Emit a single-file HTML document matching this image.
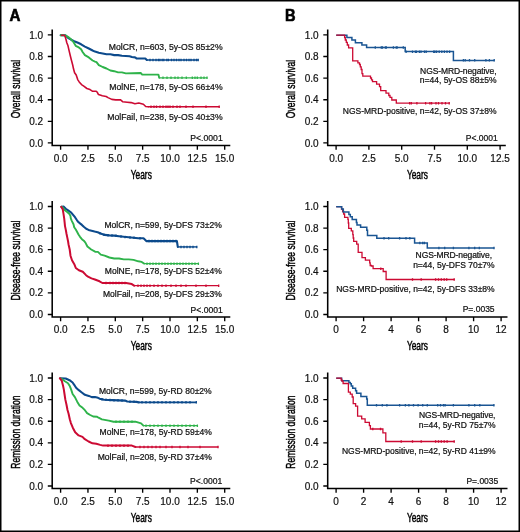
<!DOCTYPE html>
<html><head><meta charset="utf-8"><style>
html,body{margin:0;padding:0;background:#fff;}
svg{display:block;will-change:transform;}
text{font-family:"Liberation Sans", sans-serif;fill:#111;stroke:#111;stroke-width:0.2px;}
.c{fill:#000;stroke:#000;stroke-width:0.45px;}
.L{fill:#000;stroke:#000;stroke-width:0.6px;}
.a{fill:#111;stroke:#111;stroke-width:0.22px;}
</style></head><body>
<svg width="520" height="532" viewBox="0 0 520 532">
<rect x="0" y="0" width="520" height="532" fill="#fff"/>
<g transform="translate(0,0)"><path d="M52.2 29.5V146.15M51.45 145.4H230.3" stroke="#000" stroke-width="1.55" fill="none"/><path d="M47.8 142.90H52.2M47.8 121.30H52.2M47.8 99.70H52.2M47.8 78.10H52.2M47.8 56.50H52.2M47.8 34.90H52.2M60.60 145.4V149.7M87.95 145.4V149.7M115.30 145.4V149.7M142.65 145.4V149.7M170.00 145.4V149.7M197.35 145.4V149.7M224.70 145.4V149.7" stroke="#000" stroke-width="1.35" fill="none"/><text x="43.1" y="146.50" text-anchor="end" font-size="10">0.0</text><text x="43.1" y="124.90" text-anchor="end" font-size="10">0.2</text><text x="43.1" y="103.30" text-anchor="end" font-size="10">0.4</text><text x="43.1" y="81.70" text-anchor="end" font-size="10">0.6</text><text x="43.1" y="60.10" text-anchor="end" font-size="10">0.8</text><text x="43.1" y="38.50" text-anchor="end" font-size="10">1.0</text><text x="60.60" y="161.6" text-anchor="middle" font-size="10">0.0</text><text x="87.95" y="161.6" text-anchor="middle" font-size="10">2.5</text><text x="115.30" y="161.6" text-anchor="middle" font-size="10">5.0</text><text x="142.65" y="161.6" text-anchor="middle" font-size="10">7.5</text><text x="170.00" y="161.6" text-anchor="middle" font-size="10">10.0</text><text x="197.35" y="161.6" text-anchor="middle" font-size="10">12.5</text><text x="224.70" y="161.6" text-anchor="middle" font-size="10">15.0</text><text transform="translate(141.3,178.8) scale(0.69,1)" text-anchor="middle" font-size="12.1" class="c">Years</text><text transform="translate(19.6,89) rotate(-90) scale(0.69,1)" text-anchor="middle" font-size="12.4" class="c">Overall survival</text></g><g transform="translate(0,171.55)"><path d="M52.2 29.5V146.15M51.45 145.4H230.3" stroke="#000" stroke-width="1.55" fill="none"/><path d="M47.8 142.90H52.2M47.8 121.30H52.2M47.8 99.70H52.2M47.8 78.10H52.2M47.8 56.50H52.2M47.8 34.90H52.2M60.60 145.4V149.7M87.95 145.4V149.7M115.30 145.4V149.7M142.65 145.4V149.7M170.00 145.4V149.7M197.35 145.4V149.7M224.70 145.4V149.7" stroke="#000" stroke-width="1.35" fill="none"/><text x="43.1" y="146.50" text-anchor="end" font-size="10">0.0</text><text x="43.1" y="124.90" text-anchor="end" font-size="10">0.2</text><text x="43.1" y="103.30" text-anchor="end" font-size="10">0.4</text><text x="43.1" y="81.70" text-anchor="end" font-size="10">0.6</text><text x="43.1" y="60.10" text-anchor="end" font-size="10">0.8</text><text x="43.1" y="38.50" text-anchor="end" font-size="10">1.0</text><text x="60.60" y="161.6" text-anchor="middle" font-size="10">0.0</text><text x="87.95" y="161.6" text-anchor="middle" font-size="10">2.5</text><text x="115.30" y="161.6" text-anchor="middle" font-size="10">5.0</text><text x="142.65" y="161.6" text-anchor="middle" font-size="10">7.5</text><text x="170.00" y="161.6" text-anchor="middle" font-size="10">10.0</text><text x="197.35" y="161.6" text-anchor="middle" font-size="10">12.5</text><text x="224.70" y="161.6" text-anchor="middle" font-size="10">15.0</text><text transform="translate(141.3,178.8) scale(0.69,1)" text-anchor="middle" font-size="12.1" class="c">Years</text><text transform="translate(19.6,89) rotate(-90) scale(0.69,1)" text-anchor="middle" font-size="12.4" class="c">Disease-free survival</text></g><g transform="translate(0,343.1)"><path d="M52.2 29.5V146.15M51.45 145.4H230.3" stroke="#000" stroke-width="1.55" fill="none"/><path d="M47.8 142.90H52.2M47.8 121.30H52.2M47.8 99.70H52.2M47.8 78.10H52.2M47.8 56.50H52.2M47.8 34.90H52.2M60.60 145.4V149.7M87.95 145.4V149.7M115.30 145.4V149.7M142.65 145.4V149.7M170.00 145.4V149.7M197.35 145.4V149.7M224.70 145.4V149.7" stroke="#000" stroke-width="1.35" fill="none"/><text x="43.1" y="146.50" text-anchor="end" font-size="10">0.0</text><text x="43.1" y="124.90" text-anchor="end" font-size="10">0.2</text><text x="43.1" y="103.30" text-anchor="end" font-size="10">0.4</text><text x="43.1" y="81.70" text-anchor="end" font-size="10">0.6</text><text x="43.1" y="60.10" text-anchor="end" font-size="10">0.8</text><text x="43.1" y="38.50" text-anchor="end" font-size="10">1.0</text><text x="60.60" y="161.6" text-anchor="middle" font-size="10">0.0</text><text x="87.95" y="161.6" text-anchor="middle" font-size="10">2.5</text><text x="115.30" y="161.6" text-anchor="middle" font-size="10">5.0</text><text x="142.65" y="161.6" text-anchor="middle" font-size="10">7.5</text><text x="170.00" y="161.6" text-anchor="middle" font-size="10">10.0</text><text x="197.35" y="161.6" text-anchor="middle" font-size="10">12.5</text><text x="224.70" y="161.6" text-anchor="middle" font-size="10">15.0</text><text transform="translate(141.3,178.8) scale(0.69,1)" text-anchor="middle" font-size="12.1" class="c">Years</text><text transform="translate(19.6,89) rotate(-90) scale(0.69,1)" text-anchor="middle" font-size="12.4" class="c">Remission duration</text></g><g transform="translate(275.5,0)"><path d="M52.2 29.5V146.15M51.45 145.4H230.3" stroke="#000" stroke-width="1.55" fill="none"/><path d="M47.8 142.90H52.2M47.8 121.30H52.2M47.8 99.70H52.2M47.8 78.10H52.2M47.8 56.50H52.2M47.8 34.90H52.2M60.60 145.4V149.7M93.40 145.4V149.7M126.20 145.4V149.7M159.00 145.4V149.7M191.80 145.4V149.7M224.60 145.4V149.7" stroke="#000" stroke-width="1.35" fill="none"/><text x="43.1" y="146.50" text-anchor="end" font-size="10">0.0</text><text x="43.1" y="124.90" text-anchor="end" font-size="10">0.2</text><text x="43.1" y="103.30" text-anchor="end" font-size="10">0.4</text><text x="43.1" y="81.70" text-anchor="end" font-size="10">0.6</text><text x="43.1" y="60.10" text-anchor="end" font-size="10">0.8</text><text x="43.1" y="38.50" text-anchor="end" font-size="10">1.0</text><text x="60.60" y="161.6" text-anchor="middle" font-size="10">0.0</text><text x="93.40" y="161.6" text-anchor="middle" font-size="10">2.5</text><text x="126.20" y="161.6" text-anchor="middle" font-size="10">5.0</text><text x="159.00" y="161.6" text-anchor="middle" font-size="10">7.5</text><text x="191.80" y="161.6" text-anchor="middle" font-size="10">10.0</text><text x="224.60" y="161.6" text-anchor="middle" font-size="10">12.5</text><text transform="translate(141.9,178.8) scale(0.69,1)" text-anchor="middle" font-size="12.1" class="c">Years</text><text transform="translate(19.6,89) rotate(-90) scale(0.69,1)" text-anchor="middle" font-size="12.4" class="c">Overall survival</text></g><g transform="translate(275.5,171.55)"><path d="M52.2 29.5V146.15M51.45 145.4H232.0" stroke="#000" stroke-width="1.55" fill="none"/><path d="M47.8 142.90H52.2M47.8 121.30H52.2M47.8 99.70H52.2M47.8 78.10H52.2M47.8 56.50H52.2M47.8 34.90H52.2M60.60 145.4V149.7M88.10 145.4V149.7M115.60 145.4V149.7M143.10 145.4V149.7M170.60 145.4V149.7M198.10 145.4V149.7M225.60 145.4V149.7" stroke="#000" stroke-width="1.35" fill="none"/><text x="43.1" y="146.50" text-anchor="end" font-size="10">0.0</text><text x="43.1" y="124.90" text-anchor="end" font-size="10">0.2</text><text x="43.1" y="103.30" text-anchor="end" font-size="10">0.4</text><text x="43.1" y="81.70" text-anchor="end" font-size="10">0.6</text><text x="43.1" y="60.10" text-anchor="end" font-size="10">0.8</text><text x="43.1" y="38.50" text-anchor="end" font-size="10">1.0</text><text x="60.60" y="161.6" text-anchor="middle" font-size="10">0</text><text x="88.10" y="161.6" text-anchor="middle" font-size="10">2</text><text x="115.60" y="161.6" text-anchor="middle" font-size="10">4</text><text x="143.10" y="161.6" text-anchor="middle" font-size="10">6</text><text x="170.60" y="161.6" text-anchor="middle" font-size="10">8</text><text x="198.10" y="161.6" text-anchor="middle" font-size="10">10</text><text x="225.60" y="161.6" text-anchor="middle" font-size="10">12</text><text transform="translate(141.9,178.8) scale(0.69,1)" text-anchor="middle" font-size="12.1" class="c">Years</text><text transform="translate(19.6,89) rotate(-90) scale(0.69,1)" text-anchor="middle" font-size="12.4" class="c">Disease-free survival</text></g><g transform="translate(275.5,343.1)"><path d="M52.2 29.5V146.15M51.45 145.4H232.0" stroke="#000" stroke-width="1.55" fill="none"/><path d="M47.8 142.90H52.2M47.8 121.30H52.2M47.8 99.70H52.2M47.8 78.10H52.2M47.8 56.50H52.2M47.8 34.90H52.2M60.60 145.4V149.7M88.10 145.4V149.7M115.60 145.4V149.7M143.10 145.4V149.7M170.60 145.4V149.7M198.10 145.4V149.7M225.60 145.4V149.7" stroke="#000" stroke-width="1.35" fill="none"/><text x="43.1" y="146.50" text-anchor="end" font-size="10">0.0</text><text x="43.1" y="124.90" text-anchor="end" font-size="10">0.2</text><text x="43.1" y="103.30" text-anchor="end" font-size="10">0.4</text><text x="43.1" y="81.70" text-anchor="end" font-size="10">0.6</text><text x="43.1" y="60.10" text-anchor="end" font-size="10">0.8</text><text x="43.1" y="38.50" text-anchor="end" font-size="10">1.0</text><text x="60.60" y="161.6" text-anchor="middle" font-size="10">0</text><text x="88.10" y="161.6" text-anchor="middle" font-size="10">2</text><text x="115.60" y="161.6" text-anchor="middle" font-size="10">4</text><text x="143.10" y="161.6" text-anchor="middle" font-size="10">6</text><text x="170.60" y="161.6" text-anchor="middle" font-size="10">8</text><text x="198.10" y="161.6" text-anchor="middle" font-size="10">10</text><text x="225.60" y="161.6" text-anchor="middle" font-size="10">12</text><text transform="translate(141.9,178.8) scale(0.69,1)" text-anchor="middle" font-size="12.1" class="c">Years</text><text transform="translate(19.6,89) rotate(-90) scale(0.69,1)" text-anchor="middle" font-size="12.4" class="c">Remission duration</text></g><text transform="translate(9.6,20.7) scale(0.97,1)" font-size="15.6" font-weight="bold" class="L">A</text><text transform="translate(285.1,20.8) scale(0.94,1)" font-size="15.6" font-weight="bold" class="L">B</text><text x="222.6" y="49.9" text-anchor="end" font-size="8.65" class="a">MolCR, n=603, 5y-OS 85±2%</text><text x="222.6" y="90.1" text-anchor="end" font-size="8.65" class="a">MolNE, n=178, 5y-OS 66±4%</text><text x="222.6" y="120.1" text-anchor="end" font-size="8.65" class="a">MolFail, n=238, 5y-OS 40±3%</text><text x="222.7" y="141.0" text-anchor="end" font-size="8.65" class="a">P&lt;.0001</text><text x="221.9" y="227.8" text-anchor="end" font-size="8.56" class="a">MolCR, n=599, 5y-DFS 73±2%</text><text x="221.9" y="274.2" text-anchor="end" font-size="8.56" class="a">MolNE, n=178, 5y-DFS 52±4%</text><text x="221.9" y="297.4" text-anchor="end" font-size="8.56" class="a">MolFail, n=208, 5y-DFS 29±3%</text><text x="222.7" y="312.6" text-anchor="end" font-size="8.56" class="a">P&lt;.0001</text><text x="211.7" y="393.5" text-anchor="end" font-size="8.56" class="a">MolCR, n=599, 5y-RD 80±2%</text><text x="211.9" y="435.3" text-anchor="end" font-size="8.56" class="a">MolNE, n=178, 5y-RD 59±4%</text><text x="211.9" y="460.1" text-anchor="end" font-size="8.56" class="a">MolFail, n=208, 5y-RD 37±4%</text><text x="222.2" y="484.3" text-anchor="end" font-size="8.56" class="a">P&lt;.0001</text><text x="496.5" y="73.8" text-anchor="end" font-size="8.5" class="a" textLength="76.4" lengthAdjust="spacing">NGS-MRD-negative,</text><text x="496.5" y="83.4" text-anchor="end" font-size="8.5" class="a">n=44, 5y-OS 88±5%</text><text x="496.5" y="114.2" text-anchor="end" font-size="8.5" class="a">NGS-MRD-positive, n=42, 5y-OS 37±8%</text><text x="497.7" y="141.0" text-anchor="end" font-size="8.5" class="a">P&lt;.0001</text><text x="492.0" y="257.5" text-anchor="end" font-size="8.5" class="a" textLength="76.4" lengthAdjust="spacing">NGS-MRD-negative,</text><text x="494.6" y="268.1" text-anchor="end" font-size="8.5" class="a">n=44, 5y-DFS 70±7%</text><text x="494.6" y="292.1" text-anchor="end" font-size="8.5" class="a">NGS-MRD-positive, n=42, 5y-DFS 33±8%</text><text x="494.6" y="312.4" text-anchor="end" font-size="8.5" class="a">P=.0035</text><text x="495.4" y="417.7" text-anchor="end" font-size="8.5" class="a" textLength="76.4" lengthAdjust="spacing">NGS-MRD-negative,</text><text x="495.6" y="427.7" text-anchor="end" font-size="8.5" class="a">n=44, 5y-RD 75±7%</text><text x="495.6" y="454.2" text-anchor="end" font-size="8.5" class="a">NGS-MRD-positive, n=42, 5y-RD 41±9%</text><text x="498.3" y="483.8" text-anchor="end" font-size="8.5" class="a">P=.0035</text>
<path d="M146.8 60.0 L198.4 60.0" fill="none" stroke="#0c4a8c" stroke-width="1.4"/>
<path d="M60.7 35.2 L65.3 35.2 L68.0 37.8 L71.1 39.7 L74.2 41.2 L78.0 42.8 L81.1 44.3 L84.9 46.6 L88.8 48.5 L92.6 50.5 L95.0 51.6 L98.8 52.8 L102.7 53.5 L106.5 54.3 L110.4 54.3 L114.2 55.1 L118.1 55.1 L121.9 55.8 L125.8 56.0 L129.6 56.2 L131.9 57.0 L135.0 57.4 L135.7 57.7 L136.5 58.5 L145.3 58.5 L146.8 60.0" fill="none" stroke="#0c4a8c" stroke-width="2.1" stroke-linejoin="round" stroke-linecap="round"/>
<path d="M159.2 77.8 L207.3 77.8" fill="none" stroke="#2eb34a" stroke-width="1.15"/>
<path d="M60.7 35.2 L65.7 35.5 L68.8 37.4 L71.1 39.3 L73.4 42.0 L75.7 45.8 L78.8 47.4 L81.1 49.3 L82.6 52.0 L84.9 55.1 L88.8 57.4 L92.6 60.5 L95.0 61.6 L96.5 62.2 L98.8 65.1 L102.7 67.0 L106.5 68.5 L110.4 70.5 L114.2 71.2 L118.1 72.4 L121.9 72.4 L125.8 73.4 L133.0 73.2 L140.7 73.0 L142.2 74.6 L158.4 74.6 L159.2 77.8" fill="none" stroke="#2eb34a" stroke-width="1.9" stroke-linejoin="round" stroke-linecap="round"/>
<path d="M148.0 106.8 L219.3 106.8" fill="none" stroke="#cc0a33" stroke-width="1.4"/>
<path d="M61.5 35.2 L64.0 35.2 L64.9 35.8 L66.1 39.7 L66.8 42.8 L68.0 45.8 L69.2 51.2 L70.3 55.8 L71.5 60.5 L72.7 65.0 L73.5 68.8 L74.6 72.7 L76.2 75.0 L77.7 79.6 L79.2 81.9 L81.5 84.6 L83.8 86.2 L86.9 88.5 L90.0 89.6 L92.3 91.2 L96.2 91.2 L97.3 92.3 L98.5 94.6 L102.3 95.8 L106.2 96.5 L108.0 97.6 L111.8 99.4 L115.7 99.9 L120.3 99.7 L122.6 101.7 L127.2 102.2 L131.1 102.6 L134.9 103.8 L138.8 103.0 L143.4 104.2 L145.7 106.5 L148.0 106.8" fill="none" stroke="#cc0a33" stroke-width="1.6" stroke-linejoin="round" stroke-linecap="round"/>
<path d="M150.0 58.8V61.2M153.0 58.8V61.2M156.0 58.8V61.2M158.4 58.8V61.2M159.9 58.8V61.2M162.2 58.8V61.2M163.8 58.8V61.2M166.8 58.8V61.2M168.4 58.8V61.2M171.5 58.8V61.2M174.0 58.8V61.2M176.5 58.8V61.2M179.0 58.8V61.2M181.0 58.8V61.2M184.0 58.8V61.2M186.5 58.8V61.2M189.0 58.8V61.2M191.0 58.8V61.2M194.0 58.8V61.2M196.5 58.8V61.2M198.2 58.8V61.2" fill="none" stroke="#0c4a8c" stroke-width="1.3"/>
<path d="M163.0 76.5V79.0M167.0 76.5V79.0M171.0 76.5V79.0M175.0 76.5V79.0M178.0 76.5V79.0M182.0 76.5V79.0M186.3 76.5V79.0M192.3 76.5V79.0M195.0 76.5V79.0M197.3 76.5V79.0M201.0 76.5V79.0M204.0 76.5V79.0M207.0 76.5V79.0" fill="none" stroke="#2eb34a" stroke-width="1.3"/>
<path d="M151.0 105.5V108.0M154.0 105.5V108.0M156.5 105.5V108.0M160.0 105.5V108.0M163.0 105.5V108.0M166.0 105.5V108.0M168.0 105.5V108.0M170.0 105.5V108.0M173.0 105.5V108.0M177.0 105.5V108.0M180.0 105.5V108.0M186.0 105.5V108.0M193.0 105.5V108.0M206.0 105.5V108.0M219.2 105.5V108.0" fill="none" stroke="#cc0a33" stroke-width="1.3"/>
<path d="M177.8 246.9 L197.1 246.9" fill="none" stroke="#0c4a8c" stroke-width="1.4"/>
<path d="M61.5 206.7 L63.5 206.5 L65.8 208.8 L68.5 210.7 L71.2 212.6 L73.1 214.9 L75.0 217.2 L76.5 219.5 L78.1 221.8 L80.0 223.4 L81.9 224.9 L83.8 226.8 L86.2 228.8 L88.5 229.9 L91.5 230.7 L94.6 231.5 L97.7 232.2 L100.0 233.2 L104.6 234.9 L109.4 235.4 L114.2 235.6 L119.0 236.2 L123.8 236.8 L128.7 237.3 L133.5 237.8 L138.3 238.3 L143.5 238.3 L146.3 241.1 L176.9 241.1 L177.8 246.9" fill="none" stroke="#0c4a8c" stroke-width="2.1" stroke-linejoin="round" stroke-linecap="round"/>
<path d="M144.0 263.6 L198.6 263.6" fill="none" stroke="#2eb34a" stroke-width="1.15"/>
<path d="M61.5 206.8 L62.3 207.2 L64.6 209.9 L66.9 211.8 L69.2 213.8 L70.4 215.7 L70.8 218.4 L71.9 221.1 L73.5 224.2 L74.2 227.2 L75.8 229.5 L77.3 232.2 L78.5 234.5 L80.0 236.8 L81.9 239.2 L83.8 240.7 L85.4 242.6 L87.4 246.5 L91.2 249.5 L95.1 251.7 L97.9 251.9 L100.8 254.6 L104.6 255.6 L109.4 257.5 L114.2 258.5 L119.0 258.5 L123.8 259.4 L128.7 259.4 L133.5 259.9 L138.3 261.3 L141.7 261.9 L144.0 263.6" fill="none" stroke="#2eb34a" stroke-width="1.9" stroke-linejoin="round" stroke-linecap="round"/>
<path d="M134.1 285.6 L218.9 285.6" fill="none" stroke="#cc0a33" stroke-width="1.4"/>
<path d="M61.3 206.9 L62.7 209.2 L63.5 213.8 L64.2 218.4 L64.6 222.2 L65.0 226.1 L65.8 229.9 L66.5 233.8 L67.3 237.6 L68.1 241.5 L68.5 244.2 L69.7 249.5 L70.5 255.7 L72.0 260.3 L74.3 264.2 L75.8 268.0 L78.9 270.3 L82.8 271.8 L85.8 274.9 L88.0 276.7 L91.5 278.4 L94.9 279.5 L99.5 281.3 L102.4 283.0 L126.1 283.0 L131.8 284.1 L134.1 285.6" fill="none" stroke="#cc0a33" stroke-width="2.0" stroke-linejoin="round" stroke-linecap="round"/>
<path d="M100.0 231.9V234.4M104.0 233.4V235.9M108.0 234.0V236.5M112.0 234.3V236.8M116.0 234.6V237.1M121.0 235.2V237.7M125.0 235.7V238.2M130.0 236.2V238.7M134.0 236.6V239.1M140.0 237.1V239.6M149.0 239.8V242.3M152.0 239.8V242.3M155.0 239.8V242.3M158.0 239.8V242.3M161.0 239.8V242.3M164.0 239.8V242.3M167.0 239.8V242.3M170.0 239.8V242.3M173.0 239.8V242.3M176.0 239.8V242.3" fill="none" stroke="#0c4a8c" stroke-width="1.3"/>
<path d="M181.0 245.7V248.2M184.0 245.7V248.2M187.0 245.7V248.2M190.0 245.7V248.2M193.0 245.7V248.2M196.8 245.7V248.2" fill="none" stroke="#0c4a8c" stroke-width="1.3"/>
<path d="M147.0 262.4V264.9M150.0 262.4V264.9M153.0 262.4V264.9M156.0 262.4V264.9M159.0 262.4V264.9M162.0 262.4V264.9M165.0 262.4V264.9M168.0 262.4V264.9M171.0 262.4V264.9M174.0 262.4V264.9M177.0 262.4V264.9M180.0 262.4V264.9M183.0 262.4V264.9M186.0 262.4V264.9M189.0 262.4V264.9M192.0 262.4V264.9M195.0 262.4V264.9M198.4 262.4V264.9" fill="none" stroke="#2eb34a" stroke-width="1.3"/>
<path d="M106.0 281.8V284.2M110.0 281.8V284.2M113.0 281.8V284.2M116.0 281.8V284.2M119.0 281.8V284.2M122.0 281.8V284.2M125.0 281.8V284.2" fill="none" stroke="#cc0a33" stroke-width="1.3"/>
<path d="M138.0 284.4V286.9M141.0 284.4V286.9M144.0 284.4V286.9M147.0 284.4V286.9M150.0 284.4V286.9M154.0 284.4V286.9M158.0 284.4V286.9M162.0 284.4V286.9M166.0 284.4V286.9M171.0 284.4V286.9M176.0 284.4V286.9M181.0 284.4V286.9M186.0 284.4V286.9M196.0 284.4V286.9M206.0 284.4V286.9M218.7 284.4V286.9" fill="none" stroke="#cc0a33" stroke-width="1.3"/>
<path d="M138.8 402.4 L196.6 402.4" fill="none" stroke="#0c4a8c" stroke-width="1.8"/>
<path d="M60.3 378.2 L65.7 378.5 L69.5 380.2 L72.6 382.5 L74.2 384.8 L76.1 387.8 L78.8 390.2 L81.8 392.5 L84.9 394.8 L88.8 395.9 L91.8 397.1 L94.9 397.1 L98.0 397.8 L99.6 398.7 L104.2 399.8 L112.3 400.1 L125.0 400.6 L127.3 401.5 L136.5 401.9 L138.8 402.4" fill="none" stroke="#0c4a8c" stroke-width="2.1" stroke-linejoin="round" stroke-linecap="round"/>
<path d="M143.4 425.6 L197.7 425.6" fill="none" stroke="#2eb34a" stroke-width="1.15"/>
<path d="M60.3 378.4 L61.8 379.0 L64.9 381.3 L68.0 383.2 L69.9 386.3 L71.1 389.4 L72.6 394.0 L74.9 397.1 L77.2 401.7 L79.5 405.5 L82.6 407.8 L84.9 410.2 L87.1 413.1 L90.2 415.0 L93.2 416.5 L97.1 416.8 L98.5 417.7 L101.9 419.4 L108.8 420.6 L113.5 421.7 L135.4 421.7 L141.1 423.4 L143.4 425.6" fill="none" stroke="#2eb34a" stroke-width="1.9" stroke-linejoin="round" stroke-linecap="round"/>
<path d="M135.4 447.0 L218.2 447.0" fill="none" stroke="#cc0a33" stroke-width="1.4"/>
<path d="M59.8 378.2 L61.8 380.9 L63.0 385.5 L63.8 389.4 L64.5 394.0 L65.3 399.4 L66.5 404.8 L67.5 410.0 L68.6 413.8 L69.8 419.2 L70.9 423.1 L72.8 427.7 L75.2 432.3 L78.6 435.4 L82.5 436.9 L84.8 439.2 L88.6 441.5 L92.5 443.3 L96.3 443.8 L100.2 444.9 L103.1 445.6 L131.9 445.6 L135.4 447.0" fill="none" stroke="#cc0a33" stroke-width="2.0" stroke-linejoin="round" stroke-linecap="round"/>
<path d="M102.0 398.0V400.5M106.0 398.6V401.1M110.0 398.8V401.3M114.0 398.9V401.4M118.0 399.1V401.6M122.0 399.2V401.7M130.0 400.4V402.9M134.0 400.5V403.0M142.0 401.1V403.6M146.0 401.1V403.6M150.0 401.1V403.6M154.0 401.1V403.6M158.0 401.1V403.6M162.0 401.1V403.6M166.0 401.1V403.6M170.0 401.1V403.6M174.0 401.1V403.6M178.0 401.1V403.6M182.0 401.1V403.6M186.0 401.1V403.6M190.0 401.1V403.6M196.3 401.1V403.6" fill="none" stroke="#0c4a8c" stroke-width="1.3"/>
<path d="M116.0 420.4V422.9M120.0 420.4V422.9M124.0 420.4V422.9M128.0 420.4V422.9M132.0 420.4V422.9M146.0 424.4V426.9M150.0 424.4V426.9M154.0 424.4V426.9M158.0 424.4V426.9M162.0 424.4V426.9M166.0 424.4V426.9M170.0 424.4V426.9M174.0 424.4V426.9M178.0 424.4V426.9M182.0 424.4V426.9M186.0 424.4V426.9M190.0 424.4V426.9M194.0 424.4V426.9M197.4 424.4V426.9" fill="none" stroke="#2eb34a" stroke-width="1.3"/>
<path d="M108.0 444.4V446.9M112.0 444.4V446.9M116.0 444.4V446.9M120.0 444.4V446.9M124.0 444.4V446.9M128.0 444.4V446.9M140.0 445.8V448.2M144.0 445.8V448.2M148.0 445.8V448.2M152.0 445.8V448.2M156.0 445.8V448.2M160.0 445.8V448.2M166.0 445.8V448.2M172.0 445.8V448.2M180.0 445.8V448.2M188.0 445.8V448.2M200.0 445.8V448.2M218.0 445.8V448.2" fill="none" stroke="#cc0a33" stroke-width="1.3"/>
<path d="M336.2 35.2H346.9V37.5H351.9V40H355.4V42.8H361.9V45.1H366.6V47.5H405.2V51.6H453.4V60.4H494.6" fill="none" stroke="#1a5593" stroke-width="1.5"/>
<path d="M336.2 35.2H344.6V37.5H345.3V40H346.3V42.3H347.3V45H348.6V47.8H352.7V60.8H357.9V62.9H359.5V64.5H360.3V66.9H361.2V69.5H362V73.6H362.8V76.2H370.5V78H371.5V79.8H372.5V81.6H376.6V84.2H379.5V86.7H380.7V90.7H386V93.2H388.8V95.5H390V97.4H391.8V100H396.3V103.2H449.4" fill="none" stroke="#cc0a33" stroke-width="1.3"/>
<path d="M375.3 46.2V48.8M381.3 46.2V48.8M382.5 46.2V48.8M385.4 46.2V48.8M386.3 46.2V48.8M393.4 46.2V48.8M396.3 46.2V48.8M397.1 46.2V48.8M403.3 46.2V48.8" fill="none" stroke="#1a5593" stroke-width="1.3"/>
<path d="M406.1 50.4V52.9M412.5 50.4V52.9M415.4 50.4V52.9M416.5 50.4V52.9M419.4 50.4V52.9M421.0 50.4V52.9M424.5 50.4V52.9M426.2 50.4V52.9M433.7 50.4V52.9M434.9 50.4V52.9M436.6 50.4V52.9M439.2 50.4V52.9M441.8 50.4V52.9M444.4 50.4V52.9M447.0 50.4V52.9M449.6 50.4V52.9" fill="none" stroke="#1a5593" stroke-width="1.3"/>
<path d="M463.4 59.1V61.6M465.2 59.1V61.6M469.5 59.1V61.6M474.7 59.1V61.6M485.9 59.1V61.6M489.4 59.1V61.6M494.2 59.1V61.6" fill="none" stroke="#1a5593" stroke-width="1.3"/>
<path d="M409.6 102.0V104.5M411.3 102.0V104.5M416.9 102.0V104.5M425.6 102.0V104.5M429.9 102.0V104.5M431.6 102.0V104.5M436.0 102.0V104.5M438.5 102.0V104.5M442.0 102.0V104.5M445.5 102.0V104.5M449.2 102.0V104.5" fill="none" stroke="#cc0a33" stroke-width="1.3"/>
<path d="M336.2 206.7H341.5V209.1H342.6V211.5H343.6V214H344.6V217.3H347.9V219.4H348.3V223H348.7V228.4H351.3V230.8H352.8V234.6H353.2V238H353.7V241.3H356.7V244.1H358.2V252.3H362V257.6H365.4V260.2H369.7V262.9H370.2V265.5H371.4V266H373.1V268.7H383.2V271.5H386.1V279.5H454.4" fill="none" stroke="#cc0a33" stroke-width="1.3"/>
<path d="M336.2 206.7H341.7V209.1H343.3V212H348.9V214.4H350.3V216.8H352.2V219.5H356.4V222.5H357V225.1H360.6V227.3H366.8V230.3H367.5V235.6H376.8V238.3H414.6V242.9H427.3V247.9H494.2" fill="none" stroke="#1a5593" stroke-width="1.5"/>
<path d="M384.0 237.1V239.6M388.7 237.1V239.6M399.6 237.1V239.6M406.0 237.1V239.6M409.8 237.1V239.6" fill="none" stroke="#1a5593" stroke-width="1.3"/>
<path d="M419.8 241.7V244.2M422.7 241.7V244.2M424.4 241.7V244.2" fill="none" stroke="#1a5593" stroke-width="1.3"/>
<path d="M438.9 246.7V249.2M444.7 246.7V249.2M453.4 246.7V249.2M468.9 246.7V249.2M474.7 246.7V249.2M479.3 246.7V249.2M494.0 246.7V249.2" fill="none" stroke="#1a5593" stroke-width="1.3"/>
<path d="M380.8 267.4V269.9" fill="none" stroke="#cc0a33" stroke-width="1.3"/>
<path d="M412.5 278.2V280.8M421.2 278.2V280.8M435.6 278.2V280.8M438.5 278.2V280.8M441.3 278.2V280.8M444.2 278.2V280.8M446.7 278.2V280.8M454.2 278.2V280.8" fill="none" stroke="#cc0a33" stroke-width="1.3"/>
<path d="M336.2 378.2H341.7V380.7H348.9V382.6H350.3V383.8H351.3V386H352.7V388.3H355.6V390.8H356.6V393.2H360.9V396.5H366.7V398.9H367.3V405.2H494.2" fill="none" stroke="#1a5593" stroke-width="1.5"/>
<path d="M336.2 378.2H341.2V380.2H342.1V381.1H343.1V383.5H348.4V392.2H350.3V394.1H352.2V397H353.2V403.7H355.6V406.1H357.6V416.1H361.7V418.9H365.1V422.3H369.4V425.7H370.4V429H382.9V432.9H385.8V441.5H454.4" fill="none" stroke="#cc0a33" stroke-width="1.3"/>
<path d="M376.5 403.9V406.4M382.3 403.9V406.4M386.9 403.9V406.4M399.6 403.9V406.4M405.4 403.9V406.4M408.9 403.9V406.4M413.5 403.9V406.4M418.1 403.9V406.4M422.7 403.9V406.4M427.3 403.9V406.4M437.7 403.9V406.4M440.5 403.9V406.4M443.5 403.9V406.4M445.1 403.9V406.4M453.4 403.9V406.4M468.9 403.9V406.4M474.7 403.9V406.4M479.8 403.9V406.4M493.9 403.9V406.4" fill="none" stroke="#1a5593" stroke-width="1.3"/>
<path d="M372.8 427.8V430.2M380.5 427.8V430.2" fill="none" stroke="#cc0a33" stroke-width="1.3"/>
<path d="M401.2 440.2V442.8M412.5 440.2V442.8M421.2 440.2V442.8M435.6 440.2V442.8M438.5 440.2V442.8M441.3 440.2V442.8M444.2 440.2V442.8M447.1 440.2V442.8M454.2 440.2V442.8" fill="none" stroke="#cc0a33" stroke-width="1.3"/>
<rect x="0.75" y="0.75" width="518.5" height="530.5" fill="none" stroke="#000" stroke-width="1.5"/>
</svg>
</body></html>
